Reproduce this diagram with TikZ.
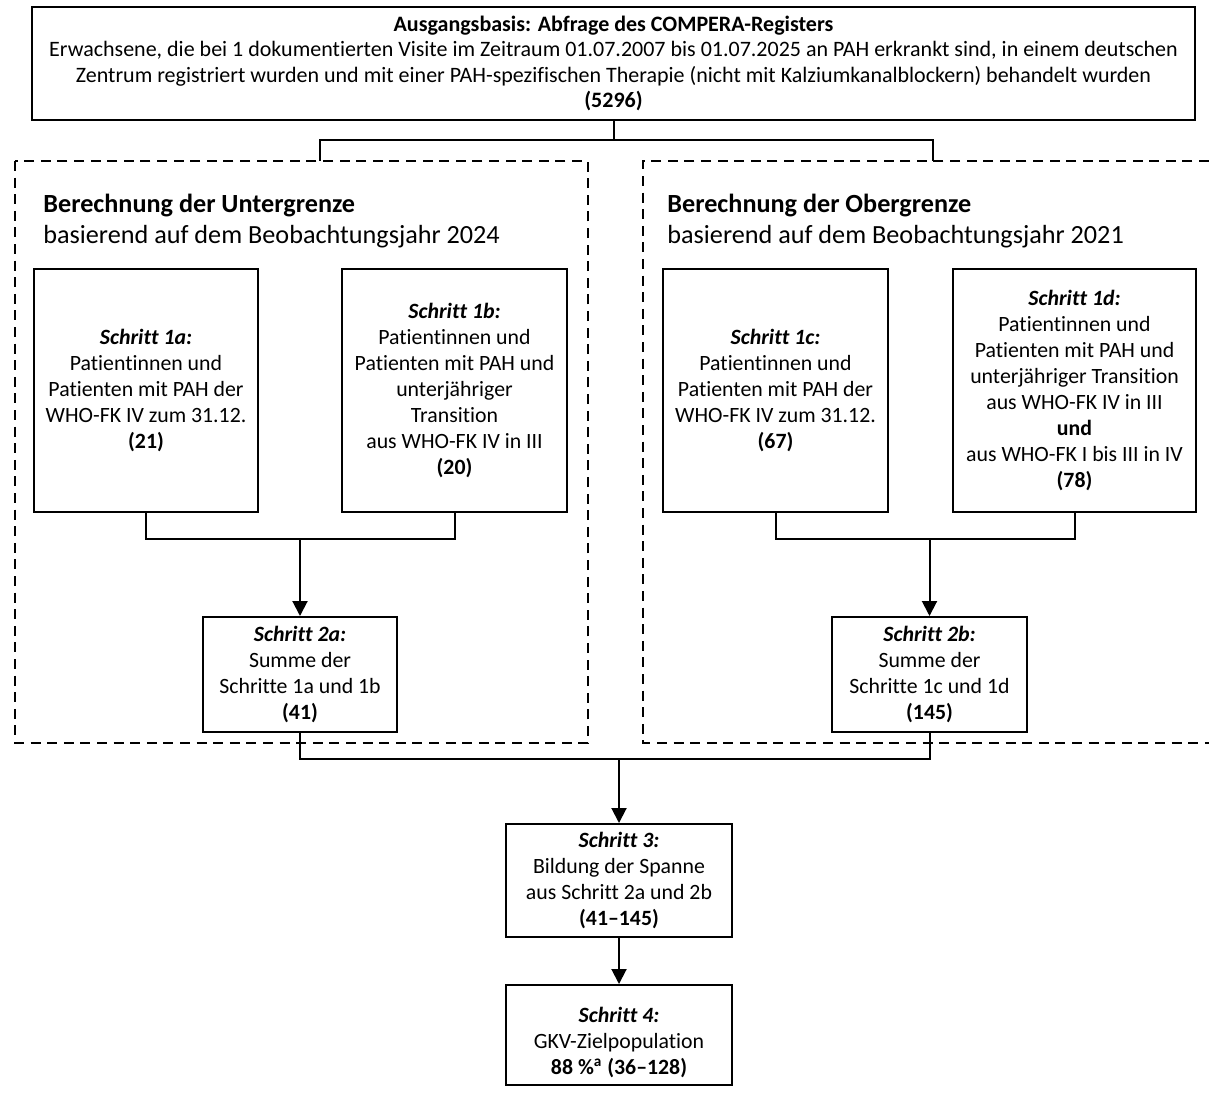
\documentclass[tikz,border=0pt]{standalone}
\usepackage{fontspec}
\setmainfont{Carlito}[Ligatures={NoCommon}]
\usetikzlibrary{arrows.meta}
\newcommand\bxfont{\fontsize{10.9pt}{13pt}\selectfont}
\newcommand\topfont{\fontsize{11pt}{12.6pt}\selectfont}
\newcommand\hdfont{\fontsize{13.1pt}{15.5pt}\selectfont}
\begin{document}
\begin{tikzpicture}[x=0.5pt,y=-0.5pt,
  box/.style={draw, line width=1pt, inner sep=0pt, align=center, font=\bxfont},
  conn/.style={line width=1pt},
  arr/.style={line width=1pt, -{Triangle[width=7.5pt,length=7.5pt]}},
  region/.style={line width=0.7pt, dash pattern=on 5pt off 3.3pt},
  head/.style={inner sep=0pt, anchor=base west, font=\hdfont}]
\useasboundingbox (0,0) rectangle (1209,1092);
\fill[white] (0,0) rectangle (1209,1092);

% top box
\node[box, font=\topfont, minimum width=581.5pt, minimum height=56.5pt] (top) at (613.5,63.5)
 {\textbf{Ausgangsbasis: Abfrage des COMPERA-Registers}\\
  Erwachsene, die bei 1 dokumentierten Visite im Zeitraum 01.07.2007 bis 01.07.2025 an PAH erkrankt sind, in einem deutschen\\
  Zentrum registriert wurden und mit einer PAH-spezifischen Therapie (nicht mit Kalziumkanalblockern) behandelt wurden\\
  \textbf{(5296)}};

% dashed regions
\draw[region] (15,161) rectangle (588,743);
\draw[region] (1209,161) -- (643,161) -- (643,743) -- (1209,743);

\coordinate (lt) at (320,161);
\coordinate (rt) at (933,161);
\coordinate (tj) at (613.5,140);
\draw[conn] (top.south) -- (tj);
\draw[conn] (lt) |- (tj) -| (rt);

% headings
\node[head] (hl1) at (43,212) {\textbf{Berechnung der Untergrenze}};
\node[head] (hl2) at (43,243) {basierend auf dem Beobachtungsjahr 2024};
\node[head] (hr1) at (667,212) {\textbf{Berechnung der Obergrenze}};
\node[head] (hr2) at (667,243) {basierend auf dem Beobachtungsjahr 2021};

% step 1 boxes
\node[box, minimum width=112pt, minimum height=121.5pt] (a1) at (146,390.5)
 {\textbf{\textit{Schritt 1a:}}\\Patientinnen und\\Patienten mit PAH der\\WHO-FK IV zum 31.12.\\\textbf{(21)}};
\node[box, minimum width=112.5pt, minimum height=121.5pt] (b1) at (454.5,390.5)
 {\textbf{\textit{Schritt 1b:}}\\Patientinnen und\\Patienten mit PAH und\\unterjähriger\\Transition\\aus WHO-FK IV in III\\\textbf{(20)}};
\node[box, minimum width=112.5pt, minimum height=121.5pt] (c1) at (775.5,390.5)
 {\textbf{\textit{Schritt 1c:}}\\Patientinnen und\\Patienten mit PAH der\\WHO-FK IV zum 31.12.\\\textbf{(67)}};
\node[box, minimum width=121.5pt, minimum height=121.5pt] (d1) at (1074.5,390.5)
 {\textbf{\textit{Schritt 1d:}}\\Patientinnen und\\Patienten mit PAH und\\unterjähriger Transition\\aus WHO-FK IV in III\\\textbf{und}\\aus WHO-FK I bis III in IV\\\textbf{(78)}};

% step 2 boxes
\node[box, minimum width=97pt, minimum height=57.5pt] (s2a) at (300,674.5)
 {\textbf{\textit{Schritt 2a:}}\\Summe der\\Schritte 1a und 1b\\\textbf{(41)}};
\node[box, minimum width=97.5pt, minimum height=57.5pt] (s2b) at (929.5,674.5)
 {\textbf{\textit{Schritt 2b:}}\\Summe der\\Schritte 1c und 1d\\\textbf{(145)}};

% step 3 and 4
\node[box, minimum width=113pt, minimum height=56.5pt] (s3) at (619,880.5)
 {\textbf{\textit{Schritt 3:}}\\Bildung der Spanne\\aus Schritt 2a und 2b\\\textbf{(41–145)}};
\node[box, minimum width=113pt, minimum height=50pt] (s4) at (619,1035) {};
\node[inner sep=0pt, align=center, font=\bxfont] (s4t) at (619,1042)
 {\textbf{\textit{Schritt 4:}}\\GKV-Zielpopulation\\\textbf{88~\%\textsuperscript{a} (36–128)}};

% connectors
\coordinate (j1) at (300,539);
\draw[conn] (a1.south) |- (j1) -| (b1.south);
\draw[arr] (j1) -- (s2a.north);
\coordinate (j2) at (929.5,539);
\draw[conn] (c1.south) |- (j2) -| (d1.south);
\draw[arr] (j2) -- (s2b.north);
\coordinate (j3) at (619,759);
\draw[conn] (s2a.south) |- (j3) -| (s2b.south);
\draw[arr] (j3) -- (s3.north);
\draw[arr] (s3.south) -- (s4.north);
\end{tikzpicture}
\end{document}
